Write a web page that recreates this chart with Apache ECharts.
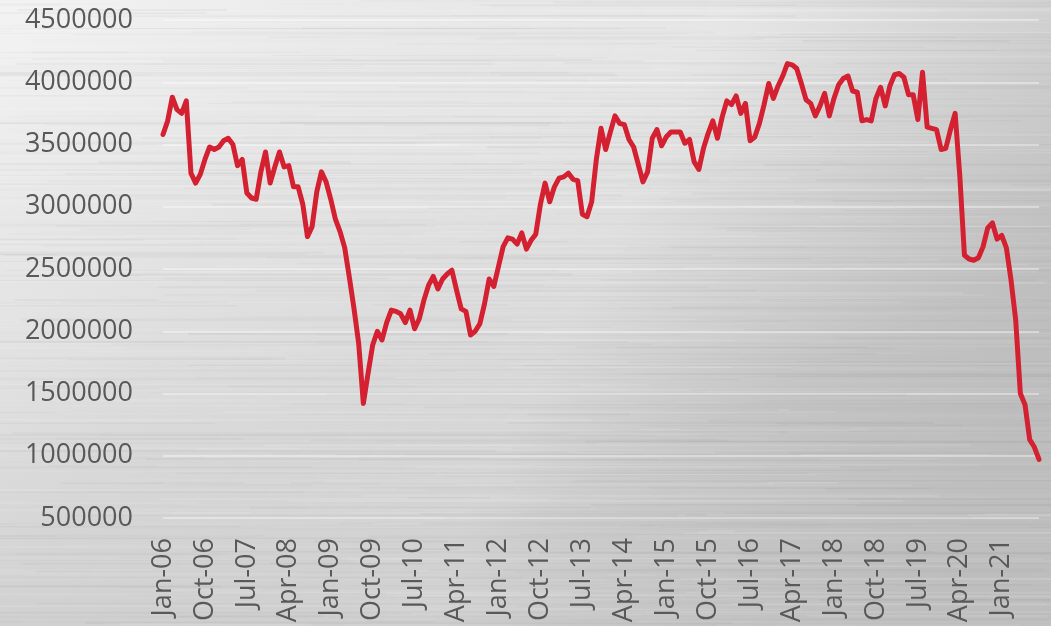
<!DOCTYPE html>
<html>
<head>
<meta charset="utf-8">
<script src="https://cdn.jsdelivr.net/npm/echarts@6/dist/echarts.min.js"></script>
<style>html,body{margin:0;padding:0;}#c{width:1051px;height:626px;}</style>
</head>
<body>
<div id="c"></div>
<script>
// Start of the monthly series (Jan-06) and number of months
const startYear = 2006;
const startMonth = 0;
const monthNames = ['Jan','Feb','Mar','Apr','May','Jun','Jul','Aug','Sep','Oct','Nov','Dec'];

// Monthly values, Jan-06 .. Sep-21
const values2006_2009 = [
  3580000,3690000,3880000,3780000,3750000,3850000,3270000,3190000,3260000,3380000,3480000,3460000,
  3480000,3530000,3550000,3500000,3330000,3380000,3110000,3070000,3060000,3280000,3440000,3190000,
  3320000,3440000,3320000,3330000,3160000,3160000,3020000,2760000,2840000,3120000,3280000,3200000,
  3060000,2900000,2800000,2670000,2430000,2180000,1900000,1420000,1660000,1890000,2000000,1930000
];
const values2010_2013 = [
  2070000,2170000,2160000,2140000,2070000,2170000,2020000,2100000,2250000,2370000,2440000,2340000,
  2420000,2460000,2490000,2330000,2180000,2160000,1970000,2000000,2060000,2220000,2420000,2360000,
  2520000,2680000,2750000,2740000,2700000,2790000,2660000,2730000,2780000,3020000,3190000,3040000,
  3160000,3230000,3240000,3270000,3220000,3210000,2940000,2920000,3040000,3380000,3630000,3460000
];
const values2014_2017 = [
  3600000,3730000,3670000,3660000,3540000,3480000,3340000,3200000,3280000,3550000,3620000,3490000,
  3560000,3600000,3600000,3600000,3510000,3540000,3360000,3300000,3470000,3590000,3690000,3550000,
  3720000,3850000,3820000,3890000,3750000,3830000,3530000,3560000,3670000,3820000,3990000,3870000,
  3970000,4050000,4150000,4140000,4110000,3990000,3860000,3830000,3730000,3810000,3910000,3730000
];
const values2018_2021 = [
  3870000,3980000,4030000,4050000,3930000,3920000,3690000,3700000,3690000,3870000,3960000,3810000,
  3970000,4060000,4070000,4040000,3900000,3900000,3700000,4080000,3640000,3630000,3620000,3460000,
  3470000,3620000,3750000,3250000,2610000,2580000,2570000,2590000,2680000,2830000,2870000,2740000,
  2770000,2670000,2410000,2090000,1500000,1410000,1130000,1070000,970000
];
const values = [].concat(values2006_2009, values2010_2013, values2014_2017, values2018_2021);

const categories = [];
for (let i = 0; i < values.length; i++) {
  const m = (startMonth + i) % 12;
  const y = startYear + Math.floor((startMonth + i) / 12);
  categories.push(monthNames[m] + '-' + String(y % 100).padStart(2, '0'));
}

const yMin = 500000, yMax = 4500000, yStep = 500000;

// brushed-metal style background texture (decorative only)
function makeBg(w, h) {
  const c = document.createElement('canvas');
  c.width = w; c.height = h;
  const g = c.getContext('2d');
  const lg = g.createLinearGradient(0, 0, w * 0.3, h);
  lg.addColorStop(0, '#f3f3f3');
  lg.addColorStop(0.5, '#e0e0e0');
  lg.addColorStop(1, '#c6c6c6');
  g.fillStyle = lg; g.fillRect(0, 0, w, h);
  const rg = g.createLinearGradient(w * 0.3, 0, w, h * 0.6);
  rg.addColorStop(0, 'rgba(255,255,255,0)');
  rg.addColorStop(0.45, 'rgba(255,255,255,0.2)');
  rg.addColorStop(1, 'rgba(130,130,130,0.12)');
  g.fillStyle = rg; g.fillRect(0, 0, w, h);
  let s = 12345;
  const nz = () => { s = (s * 16807) % 2147483647; return s / 2147483647; };
  for (let i = 0; i < 1400; i++) {
    const y = nz() * h, x = nz() * w - 200, len = 80 + nz() * 700, a = nz() * 0.12;
    g.strokeStyle = nz() < 0.55 ? 'rgba(255,255,255,' + a + ')' : 'rgba(100,100,100,' + (a * 0.5) + ')';
    g.lineWidth = 0.5 + nz() * 1.8;
    g.beginPath(); g.moveTo(x, y); g.lineTo(x + len, y); g.stroke();
  }
  return c;
}

const chart = echarts.init(document.getElementById('c'), null, {renderer: 'canvas'});
chart.setOption({
  backgroundColor: {image: makeBg(1051, 626), repeat: 'no-repeat'},
  animation: false,
  grid: {left: 163, right: 12, top: 20, bottom: 108, containLabel: false},
  xAxis: {
    type: 'category',
    data: categories,
    boundaryGap: false,
    axisLine: {show: false},
    axisTick: {show: false},
    axisLabel: {
      interval: 8, rotate: 90, margin: 20,
      fontFamily: 'Open Sans', fontSize: 27, color: '#595959'
    }
  },
  yAxis: {
    type: 'value',
    min: yMin, max: yMax, interval: yStep,
    axisLine: {show: false},
    axisTick: {show: false},
    axisLabel: {
      margin: 30, fontFamily: 'Open Sans', fontSize: 27, color: '#595959',
      formatter: function (v) { return String(v); }
    },
    splitLine: {show: true, lineStyle: {color: 'rgba(255,255,255,0.5)', width: 1.5}}
  },
  series: [{
    type: 'line',
    data: values,
    showSymbol: false,
    symbol: 'none',
    smooth: false,
    lineStyle: {color: '#d42131', width: 5, join: 'round', cap: 'round'}
  }]
});
</script>
</body>
</html>
